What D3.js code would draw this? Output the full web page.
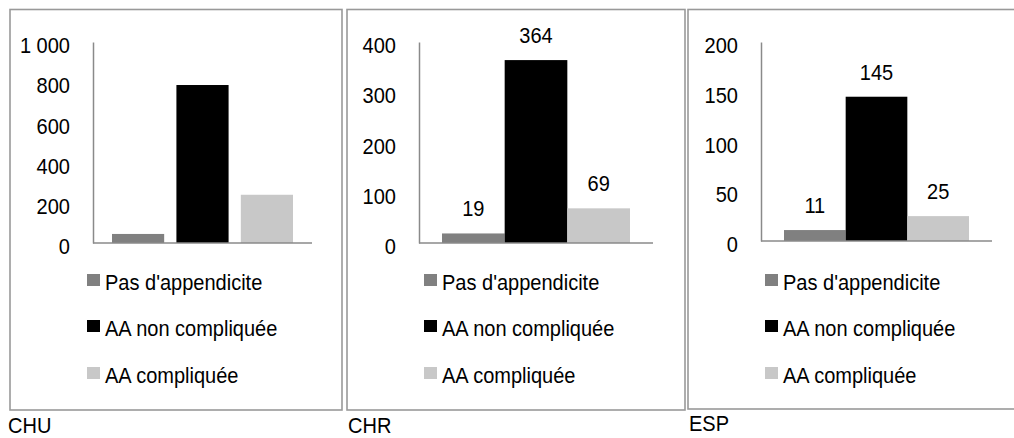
<!DOCTYPE html>
<html>
<head>
<meta charset="utf-8">
<script src="https://cdn.jsdelivr.net/npm/d3@7"></script>
<style>
  html, body { margin: 0; padding: 0; background: #fff; }
  svg { display: block; }
  text { font-family: "Liberation Sans", Arial, sans-serif; font-size: 22px; fill: #000; }
</style>
</head>
<body>
<svg id="chart" width="1014" height="438"></svg>
<script>
// Outcome categories and bar colours
const categories = ["Pas d'appendicite", "AA non compliquée", "AA compliquée"];
const colors = ["#808080", "#000000", "#c8c8c8"];

// Hospital types
const sites = ["CHU", "CHR", "ESP"];

// Patient counts per outcome, one array per hospital type
const chuValues = [45, 786, 240];
const chrValues = [19, 364, 69];
const espValues = [11, 145, 25];

// Y-axis ticks per panel
const chuTicks = [0, 200, 400, 600, 800, 1000];
const chuTickLabels = ["0", "200", "400", "600", "800", "1 000"];
const chrTicks = [0, 100, 200, 300, 400];
const chrTickLabels = ["0", "100", "200", "300", "400"];
const espTicks = [0, 50, 100, 150, 200];
const espTickLabels = ["0", "50", "100", "150", "200"];

// Narrow lettering: glyphs are squeezed horizontally
const squeeze = 0.91;

// Panel geometry
const panels = [
  { site: sites[0], values: chuValues, ticks: chuTicks, tickLabels: chuTickLabels, showLabels: false,
    box: [10, 9.5, 342, 410], axisX: 93, plotRight: 312, bars: [112, 293], padInner: 0.19,
    top: 42, base: 243, siteX: 8, siteY: 433 },
  { site: sites[1], values: chrValues, ticks: chrTicks, tickLabels: chrTickLabels, showLabels: true,
    box: [347, 9.5, 685, 410], axisX: 419, plotRight: 653, bars: [442, 630], padInner: 0,
    top: 42, base: 243, siteX: 348, siteY: 433 },
  { site: sites[2], values: espValues, ticks: espTicks, tickLabels: espTickLabels, showLabels: true,
    box: [688, 9.5, 1030, 409], axisX: 761, plotRight: 992, bars: [784, 969], padInner: 0,
    top: 42, base: 241, siteX: 689, siteY: 431 }
];

const svg = d3.select("#chart");

// place a text at (x, y) with horizontally condensed glyphs
function placeText(sel, x, y) {
  sel.attr("x", 0).attr("y", 0)
    .attr("transform", (d, i) => {
      const px = typeof x === "function" ? x(d, i) : x;
      const py = typeof y === "function" ? y(d, i) : y;
      return `translate(${px},${py}) scale(${squeeze},1)`;
    });
}

panels.forEach(p => {
  const g = svg.append("g");

  // frame
  g.append("rect")
    .attr("x", p.box[0]).attr("y", p.box[1])
    .attr("width", p.box[2] - p.box[0]).attr("height", p.box[3] - p.box[1])
    .attr("fill", "none").attr("stroke", "#999").attr("stroke-width", 1.6);

  const y = d3.scaleLinear()
    .domain([p.ticks[0], p.ticks[p.ticks.length - 1]])
    .range([p.base, p.top]);

  const x = d3.scaleBand()
    .domain(categories)
    .range(p.bars)
    .paddingInner(p.padInner)
    .paddingOuter(0);

  // bars
  g.selectAll("rect.bar")
    .data(categories.map((c, i) => ({ c, v: p.values[i], color: colors[i] })))
    .join("rect")
    .attr("class", "bar")
    .attr("x", d => x(d.c))
    .attr("width", x.bandwidth())
    .attr("y", d => y(d.v))
    .attr("height", d => y(0) - y(d.v))
    .attr("fill", d => d.color);

  // y axis
  const yAxis = d3.axisLeft(y)
    .tickValues(p.ticks)
    .tickSize(0)
    .tickPadding(23)
    .tickFormat((d, i) => p.tickLabels[i]);

  const ya = g.append("g")
    .attr("transform", `translate(${p.axisX},0)`)
    .call(yAxis);
  ya.select(".domain").attr("stroke", "#8a8a8a").attr("stroke-width", 1.5);
  ya.selectAll(".tick text")
    .attr("font-family", null).attr("font-size", null)
    .attr("fill", "#000")
    .attr("dy", "0.35em")
    .call(placeText, -23, 3);

  // x axis baseline
  g.append("line")
    .attr("x1", p.axisX).attr("x2", p.plotRight)
    .attr("y1", y(0)).attr("y2", y(0))
    .attr("stroke", "#8a8a8a").attr("stroke-width", 1.5);

  // value labels
  if (p.showLabels) {
    g.selectAll("text.val")
      .data(categories.map((c, i) => ({ c, v: p.values[i] })))
      .join("text")
      .attr("class", "val")
      .attr("text-anchor", "middle")
      .text(d => d.v)
      .call(placeText, d => x(d.c) + x.bandwidth() / 2, d => y(d.v) - 17);
  }

  // legend
  const legendX = p.box[0] + 77;
  const legendY = [282, 328, 375];
  const lg = g.selectAll("g.leg")
    .data(categories)
    .join("g")
    .attr("class", "leg")
    .attr("transform", (d, i) => `translate(${legendX},${legendY[i]})`);
  lg.append("rect")
    .attr("x", 0).attr("y", -8)
    .attr("width", 13).attr("height", 12)
    .attr("fill", (d, i) => colors[i]);
  lg.append("text")
    .attr("dy", "0.35em")
    .text(d => d)
    .call(placeText, 18, 0);

  // site name under the frame
  g.append("text")
    .text(p.site)
    .call(placeText, p.siteX, p.siteY);
});
</script>
</body>
</html>
